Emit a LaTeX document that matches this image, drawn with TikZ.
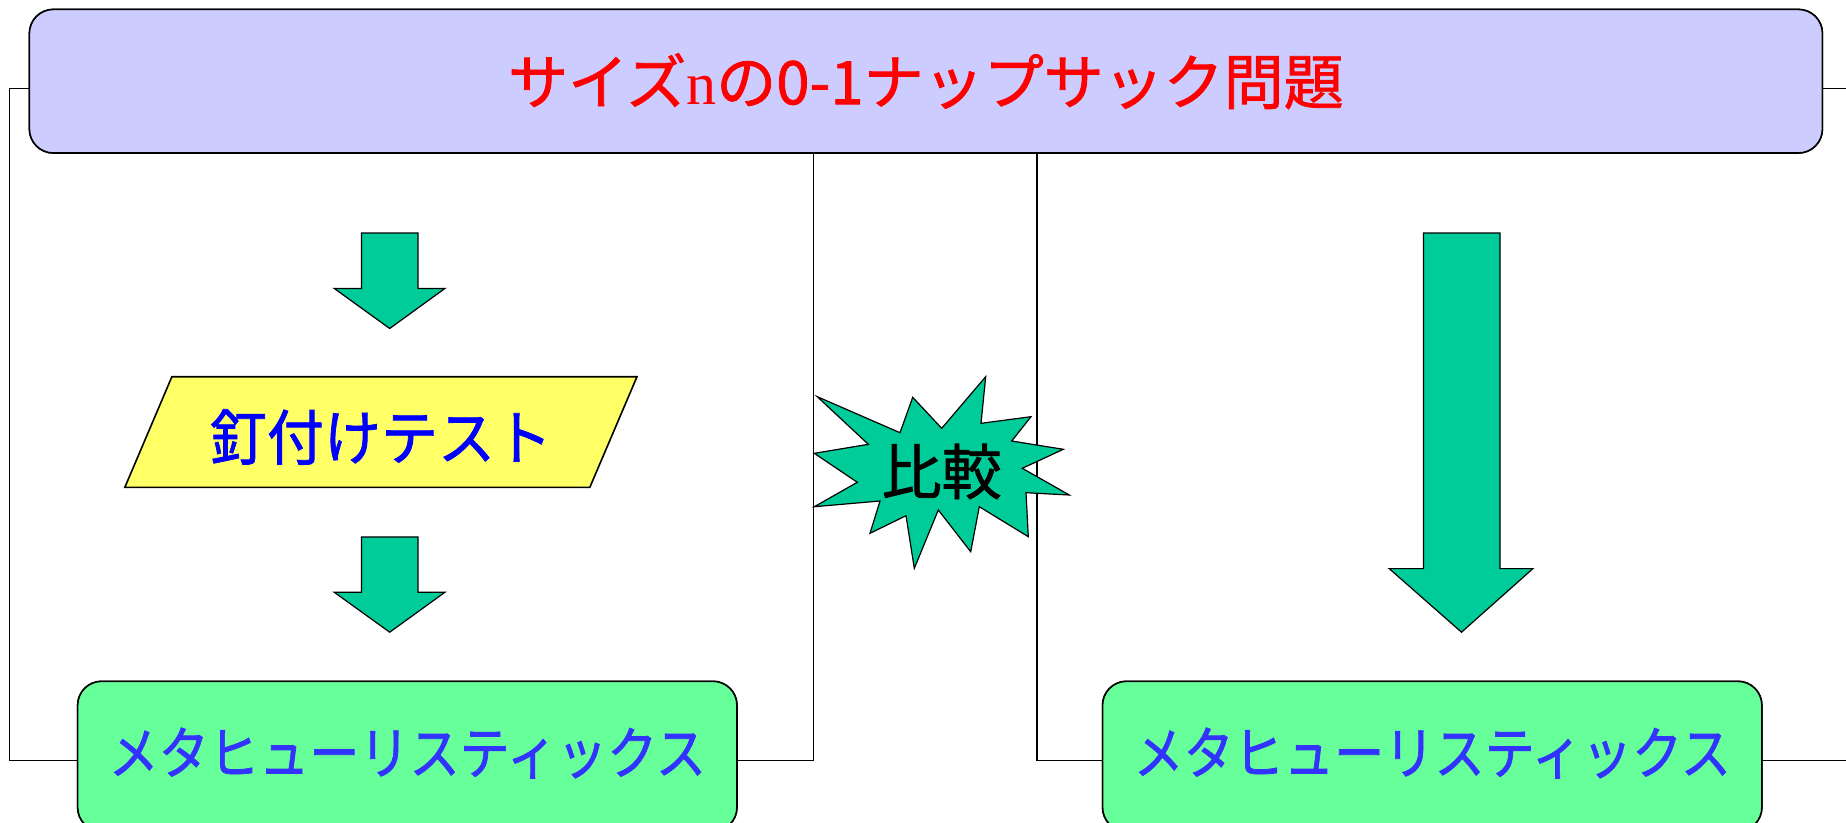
\documentclass[tikz,border=0pt]{standalone}
\usepackage{fontspec}
\newfontfamily\jp[FakeBold=1.3]{Noto Sans CJK JP}
\newfontfamily\serifn{Liberation Serif}
\definecolor{topfill}{HTML}{CCCCFF}
\definecolor{titlered}{HTML}{FF0000}
\definecolor{parafill}{HTML}{FFFF66}
\definecolor{parablue}{HTML}{0000FF}
\definecolor{metafill}{HTML}{66FF99}
\definecolor{metablue}{HTML}{3333FF}
\definecolor{arrowgreen}{HTML}{00CC99}
\tikzset{
  framelines/.style={draw=black, line width=1.2pt},
  topbox/.style={draw=black, line width=1.6pt, fill=topfill, rounded corners=24pt, inner sep=0pt,
    text=titlered, font=\jp\fontsize{60}{66}\selectfont},
  metabox/.style={draw=black, line width=1.6pt, fill=metafill, rounded corners=24pt, inner sep=0pt,
    text=metablue, font=\jp\fontsize{57}{62}\selectfont, minimum width=659.3pt, minimum height=150pt},
  blockarrow/.style={draw=black, line width=1.2pt, fill=arrowgreen},
  parashape/.style={draw=black, line width=1.6pt, fill=parafill},
  burst/.style={draw=black, line width=1.2pt, fill=arrowgreen},
}
\begin{document}
\begin{tikzpicture}[x=1pt,y=-1pt]
\useasboundingbox (0,0) rectangle (1846,822);
\clip (0,0) rectangle (1846,822);
\fill[white] (0,0) rectangle (1846,822);

% frame coordinates
\coordinate (lt) at (9.4,88.3);
\coordinate (lb) at (9.4,760.5);
\coordinate (lr) at (813.5,760.5);
\coordinate (rl) at (1037,760.5);
\coordinate (rt) at (1860,88.3);
\coordinate (rb) at (1860,760.5);

% boxes (nodes)
\node[topbox, minimum width=1793pt, minimum height=143.6pt] (title) at (925.9,81.2)
  {サイズ{\serifn n}の0-1ナップサック問題};
\node[metabox, anchor=north] (ml) at (407.3,680.5) {\raisebox{11pt}{\scalebox{0.88}[1]{メタヒューリスティックス}}};
\node[metabox, anchor=north] (mr) at (1432.2,680.5) {\raisebox{11pt}{\scalebox{0.88}[1]{メタヒューリスティックス}}};

% frame lines
\draw[framelines] (title.west |- lt) -- (lt) -- (lb) -- (ml.west |- lb);
\draw[framelines] (ml.east |- lr) -- (lr) -- (lr |- title.south);
\draw[framelines] (title.east |- rt) -- (rt);
\draw[framelines] (rl |- title.south) -- (rl) -- (mr.west |- rl);
\draw[framelines] (mr.east |- rb) -- (rb);

% block arrows
\draw[blockarrow] (361.4,233) -- (418,233) -- (418,288.4) -- (445,288.4) -- (389.7,328.5)
  -- (334.2,288.4) -- (361.4,288.4) -- cycle;
\draw[blockarrow] (361.4,536.9) -- (418,536.9) -- (418,592.2) -- (445,592.2) -- (389.7,632.2)
  -- (334.2,592.2) -- (361.4,592.2) -- cycle;
\draw[blockarrow] (1423.4,233) -- (1500,233) -- (1500,568.6) -- (1532.9,568.6) -- (1461.5,632.2)
  -- (1389.2,568.6) -- (1423.4,568.6) -- cycle;

% parallelogram
\draw[parashape] (171.9,376.7) -- (637,376.7) -- (589.8,487.4) -- (124.8,487.4) -- cycle;
\node[text=parablue, font=\jp\fontsize{60}{66}\selectfont] (nail) at (381,437) {\scalebox{0.95}[1]{釘付けテスト}};

% starburst
\draw[burst] (817.3,396.7) -- (900,432.7) -- (912.7,397.3) -- (941.7,428.3) -- (985.7,376.7)
  -- (981,423.3) -- (1031,416.7) -- (1011.7,441) -- (1063.3,449.3) -- (1022.3,468.3)
  -- (1069.3,495) -- (1026,492.7) -- (1028.3,536.7) -- (979.3,506.7) -- (970.7,551.7)
  -- (938.3,510) -- (914.3,568.3) -- (906,515.7) -- (870,533.3) -- (880,501)
  -- (814.3,506.7) -- (857.3,482.3) -- (814.3,453.3) -- (868.3,444.3) -- cycle;
\node[text=black, font=\jp\fontsize{60}{66}\selectfont] (cmp) at (941.7,471.5) {比較};

% redraw boxes on top of frame lines
\node[topbox, minimum width=1793pt, minimum height=143.6pt] at (title.center)
  {サイズ{\serifn n}の0-1ナップサック問題};
\node[metabox, anchor=north] at (ml.north) {\raisebox{11pt}{\scalebox{0.88}[1]{メタヒューリスティックス}}};
\node[metabox, anchor=north] at (mr.north) {\raisebox{11pt}{\scalebox{0.88}[1]{メタヒューリスティックス}}};
\end{tikzpicture}
\end{document}
